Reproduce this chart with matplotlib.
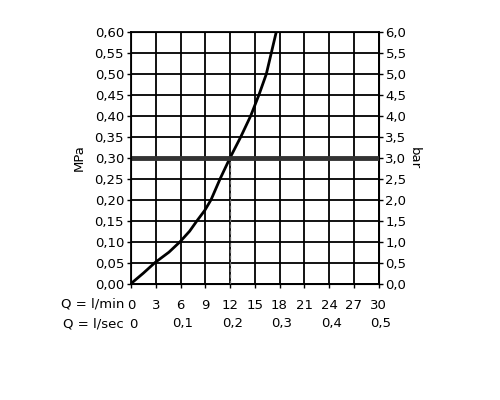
import matplotlib
matplotlib.use("Agg")
import matplotlib.pyplot as plt
import matplotlib.transforms as mtransforms

plt.rcParams['font.family'] = ['DejaVu Sans']

# flow (l/min) vs pressure (MPa)
flow = [0, 1.5, 2.9, 4.6, 5.95, 7.1, 8.0, 8.95, 9.7, 10.8, 12.0, 13.3, 14.5, 15.5, 16.4, 17.0, 17.6]
pressure = [0, 0.025, 0.05, 0.075, 0.10, 0.125, 0.15, 0.175, 0.20, 0.25, 0.30,
            0.35, 0.40, 0.45, 0.50, 0.55, 0.60]

min_ticks = [0, 3, 6, 9, 12, 15, 18, 21, 24, 27, 30]
sec_pos = [0, 6, 12, 18, 24, 30]
sec_labels = ['0', '0,1', '0,2', '0,3', '0,4', '0,5']
mpa_ticks = [i * 0.05 for i in range(13)]
bar_ticks = [i * 0.5 for i in range(13)]
ref_flow = 12
ref_pressure = 0.30

fs = 9.5
fig = plt.figure(figsize=(5, 4), dpi=100)
ax = fig.add_axes([0.262, 0.291, 0.495, 0.6285])

ax.set_xlim(0, 30)
ax.set_ylim(0, 0.60)
ax.set_xticks(min_ticks)
ax.set_yticks(mpa_ticks)
ax.set_yticklabels([f"{v:.2f}".replace('.', ',') for v in mpa_ticks], fontsize=fs)
ax.set_xticklabels([str(t) for t in min_ticks], fontsize=fs)
ax.grid(True, color='black', linewidth=1.3)
ax.tick_params(axis='y', length=3, width=1, color='black', pad=2)
ax.tick_params(axis='x', length=3, width=1, color='black', pad=8)
for s in ax.spines.values():
    s.set_linewidth(1.3)

ax.plot(flow, pressure, color='black', linewidth=2, zorder=3)
ax.axhline(ref_pressure, color='#333333', linewidth=3.5, zorder=4)
ax.plot([ref_flow, ref_flow], [0, ref_pressure], color='#666666',
        linewidth=0.9, linestyle=(0, (3, 2)), zorder=3)

ax.set_ylabel('MPa', fontsize=fs, labelpad=6)

ax2 = ax.twinx()
ax2.set_ylim(0, 6.0)
ax2.set_yticks(bar_ticks)
ax2.set_yticklabels([f"{v:.1f}".replace('.', ',') for v in bar_ticks], fontsize=fs)
ax2.tick_params(axis='y', length=3, width=1, pad=2)
ax2.set_ylabel('bar', fontsize=fs, rotation=270, labelpad=10)

trans = mtransforms.blended_transform_factory(ax.transData, fig.transFigure)
for p, lab in zip(sec_pos, sec_labels):
    ax.text(p + 0.3, 1 - 324 / 400, lab, transform=trans, ha='center', va='center', fontsize=fs)
fig.text(124 / 500, 1 - 304 / 400, 'Q = l/min', ha='right', va='center', fontsize=fs)
fig.text(124 / 500, 1 - 324 / 400, 'Q = l/sec', ha='right', va='center', fontsize=fs)

fig.savefig('out.png', dpi=100, facecolor='white')
